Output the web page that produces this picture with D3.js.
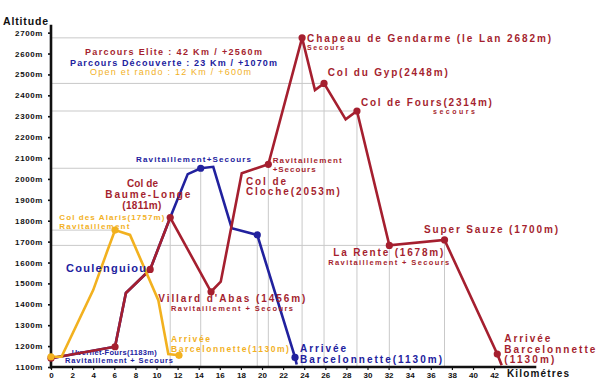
<!DOCTYPE html>
<html><head><meta charset="utf-8">
<script src="https://cdn.jsdelivr.net/npm/d3@7"></script>
<style>
html,body{margin:0;padding:0;background:#fff;}
svg{display:block;font-family:"Liberation Sans",Arial,sans-serif;}
</style></head>
<body><svg id="c" width="600" height="390"></svg>
<script>
// ---- data ----
const altTicks = [1100,1200,1300,1400,1500,1600,1700,1800,1900,2000,2100,2200,2300,2400,2500,2600,2700];
const kmTicks = [0,2,4,6,8,10,12,14,16,18,20,22,24,26,28,30,32,34,36,38,40,42];

const eliteKm  = [0,6.07,7.1,9.4,11.3,15.17,16.09,18.08,20.6,23.8,25.02,25.88,27.93,29.0,32.07,37.3,42.3,42.72];
const eliteAlt = [1142,1197,1454,1567,1815,1460,1508,2027,2070,2675,2425,2457,2285,2325,1682,1708,1162,1108];
const eliteMarks = [0,1,3,4,5,8,9,11,13,14,15,16]; // indices with dots

const decKm  = [0,6.07,7.1,9.4,11.3,12.96,14.19,15.38,17.13,19.55,23.13,23.29];
const decAlt = [1142,1197,1454,1567,1815,2023,2051,2058,1764,1732,1146,1112];
const decMarks = [6,9,10];

const openKm  = [0,1.0,4.0,5.3,6.07,7.49,10.17,11.12,12.13];
const openAlt = [1149,1149,1468,1650,1755,1732,1420,1162,1156];
const openMarks = [0,4,8];

// reference lines (km, alt) : horizontal from axis to point, vertical from point to axis
const hRefKm  = [23.8,25.88,29.0,14.19,6.07,32.07];
const hRefAlt = [2675,2457,2325,2051,1755,1682];
const vRefKm  = [11.3,14.19,19.55,20.6,23.8,25.88,29.0,32.07,37.3];
const vRefAlt = [1815,2051,1732,2070,2675,2457,2325,1682,1708];

const C = {elite:"#a51f2f", dec:"#21219e", open:"#f2b11f", black:"#111"};

// annotations: text, km, alt (anchor of text start / vertical centre)
const notes = [
 ["Parcours Elite : 42 Km  / +2560m", 3.22, 2605, "elite", 9, 177, "bold"],
 ["Parcours Découverte : 23 Km / +1070m", 1.80, 2557, "dec", 9, 207, "bold"],
 ["Open et rando : 12  Km  /  +600m", 3.70, 2512, "open", 9, 161, "normal"],
 ["Chapeau de Gendarme (le Lan 2682m)", 24.27, 2672, "elite", 10, 244, "bold"],
 ["Secours", 24.27, 2630, "elite", 7, 37, "bold"],
 ["Col du Gyp(2448m)", 26.23, 2507, "elite", 10, 120, "bold"],
 ["Col de Fours(2314m)", 29.38, 2367, "elite", 10, 131, "bold"],
 ["secours", 36.21, 2321, "elite", 7, 42, "bold"],
 ["Ravitaillement+Secours", 8.06, 2095, "dec", 8, 115, "bold"],
 ["Ravitaillement", 21.01, 2088, "elite", 8, 69, "bold"],
 ["+Secours", 21.01, 2047, "elite", 8, 43, "bold"],
 ["Col de", 18.48, 1990, "elite", 10, 40, "bold"],
 ["Cloche(2053m)", 18.48, 1941, "elite", 10, 94, "bold"],
 ["Col de", 7.2, 1977, "elite", 10, 31, "bold"],
 ["Baume-Longe", 5.15, 1924, "elite", 10, 85, "bold"],
 ["(1811m)", 6.76, 1873, "elite", 10, 39, "bold"],
 ["Col des Alaris(1757m)", 0.79, 1814, "open", 8, 105, "bold"],
 ["Ravitaillement", 0.79, 1774, "open", 8, 70, "bold"],
 ["Coulenguiou", 1.42, 1575, "dec", 11, 80, "bold"],
 ["Villard d'Abas (1456m)", 10.17, 1426, "elite", 10, 147, "bold"],
 ["Ravitaillement + Secours", 11.37, 1378, "elite", 7.5, 122, "bold"],
 ["Arrivée", 11.37, 1234, "open", 8.5, 39, "bold"],
 ["Barcelonnette(1130m)", 11.37, 1188, "open", 8.5, 118, "bold"],
 ["Uvernet-Fours(1183m)", 1.96, 1167, "dec", 7.5, 85, "bold"],
 ["Ravitaillement + Secours", 1.33, 1129, "dec", 7.5, 108, "bold"],
 ["Arrivée", 23.60, 1187, "dec", 10, 46, "bold"],
 ["Barcelonnette(1130m)", 23.60, 1137, "dec", 10, 142, "bold"],
 ["La Rente (1678m)", 26.76, 1649, "elite", 10, 110, "bold"],
 ["Ravitaillement + Secours", 26.28, 1601, "elite", 7.5, 121, "bold"],
 ["Super Sauze (1700m)", 35.36, 1757, "elite", 10, 134, "bold"],
 ["Arrivée", 42.97, 1235, "elite", 10, 46, "bold"],
 ["Barcelonnette", 42.97, 1186, "elite", 10, 91, "bold"],
 ["(1130m)", 42.97, 1136, "elite", 10, 50, "bold"]
];

// ---- drawing ----
const svg = d3.select("#c");
const x = d3.scaleLinear().domain([0,46]).range([51,536.3]);
const y = d3.scaleLinear().domain([1100,2738]).range([367,24.7]);

const grid = svg.append("g").attr("stroke","#c9c9c9").attr("stroke-width",1);
hRefKm.forEach((k,i)=>grid.append("line").attr("x1",x(0)).attr("x2",x(k)).attr("y1",y(hRefAlt[i])).attr("y2",y(hRefAlt[i])));
vRefKm.forEach((k,i)=>grid.append("line").attr("x1",x(k)).attr("x2",x(k)).attr("y1",y(vRefAlt[i])).attr("y2",y(1100)));

// axes
const ya = svg.append("g").attr("transform",`translate(${x(0)},0)`)
  .call(d3.axisLeft(y).tickValues(altTicks).tickSize(3).tickSizeOuter(0).tickPadding(5).tickFormat(d=>d+"m"));
ya.select(".domain").remove();
ya.selectAll(".tick line").attr("stroke",C.black).attr("stroke-width",1.6);
ya.selectAll(".tick text").attr("font-size",8).attr("font-weight","bold").attr("letter-spacing",0.6).attr("fill",C.black)
  .attr("font-family","Liberation Sans, Arial, sans-serif");
svg.append("line").attr("x1",x(0)).attr("x2",x(0)).attr("y1",y(2738)).attr("y2",y(1100)+1.5).attr("stroke",C.black).attr("stroke-width",2.6);

const xa = svg.append("g").attr("transform",`translate(0,${y(1100)})`)
  .call(d3.axisBottom(x).tickValues(kmTicks).tickSize(3).tickSizeOuter(0).tickPadding(2).tickFormat(d3.format("d")));
xa.select(".domain").remove();
xa.selectAll(".tick line").attr("stroke",C.black).attr("stroke-width",1.2);
xa.selectAll(".tick text").attr("font-size",8).attr("font-weight","bold").attr("fill",C.black)
  .attr("font-family","Liberation Sans, Arial, sans-serif");
svg.append("line").attr("x1",x(0)-1).attr("x2",x(46)).attr("y1",y(1100)).attr("y2",y(1100)).attr("stroke",C.black).attr("stroke-width",2.4);

// axis titles
svg.append("text").attr("x",3).attr("y",21).attr("dominant-baseline","central").attr("font-size",10.5).attr("font-weight","bold")
  .attr("textLength",45).attr("lengthAdjust","spacing").attr("fill",C.black).text("Altitude");
svg.append("text").attr("x",507).attr("y",373.5).attr("dominant-baseline","central").attr("font-size",10).attr("font-weight","bold")
  .attr("textLength",62).attr("lengthAdjust","spacing").attr("fill",C.black).text("Kilométres");

function drawNotes(filterFn, g){
  notes.filter(filterFn).forEach(n=>{
    g.append("text").attr("x",x(n[1])).attr("y",y(n[2])).attr("dominant-baseline","central")
      .attr("font-size",n[4]).attr("font-weight",n[6]).attr("fill",C[n[3]])
      .attr("textLength",n[5]).attr("lengthAdjust","spacing").text(n[0]);
  });
}
drawNotes(n=>n[0].startsWith("Uvernet"), svg.append("g"));

const line = d3.line().x(d=>x(d[0])).y(d=>y(d[1]));
function series(km, alt, color, marks){
  const pts = km.map((k,i)=>[k,alt[i]]);
  svg.append("path").datum(pts).attr("d",line).attr("fill","none").attr("stroke",color)
    .attr("stroke-width",2.6).attr("stroke-linejoin","miter");
  return ()=>svg.append("g").selectAll("circle").data(marks.map(i=>pts[i])).join("circle")
    .attr("cx",d=>x(d[0])).attr("cy",d=>y(d[1])).attr("r",3.6).attr("fill",color);
}
const mDec = series(decKm, decAlt, C.dec, decMarks);
const mEl = series(eliteKm, eliteAlt, C.elite, eliteMarks);
const mOp = series(openKm, openAlt, C.open, openMarks);
mDec(); mEl(); mOp();

drawNotes(n=>!n[0].startsWith("Uvernet"), svg.append("g"));
</script></body></html>
